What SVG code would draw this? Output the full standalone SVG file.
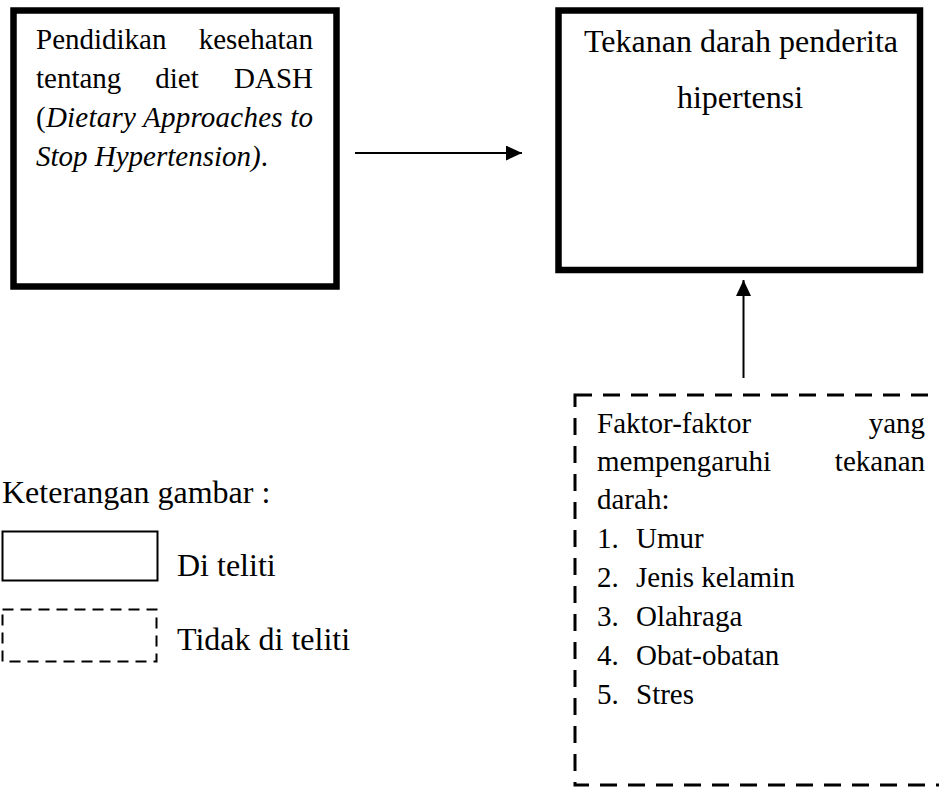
<svg xmlns="http://www.w3.org/2000/svg" width="939" height="787" viewBox="0 0 939 787">
<style>
text{font-family:"Liberation Serif","Times New Roman",serif;fill:#000}
.t28{font-size:29px}
.t31{font-size:32px}
.solid{fill:#fff;stroke:#000;stroke-width:6.5}
.dash{fill:none;stroke:#000;stroke-width:3;stroke-dasharray:17 11}
.conn{stroke:#000;stroke-width:2;fill:none}
</style>
<defs>
<marker id="ah" markerWidth="16" markerHeight="15" refX="16" refY="7.5" orient="auto" markerUnits="userSpaceOnUse">
<path d="M0,0 L16,7.5 L0,15 Z" fill="#000"/>
</marker>
</defs>
<rect width="939" height="787" fill="#fff"/>
<g id="node-pendidikan">
<rect class="solid" x="13.5" y="10.5" width="323" height="276"/>
<text class="t28" x="36" y="49">Pendidikan</text>
<text class="t28" x="313" y="49" text-anchor="end">kesehatan</text>
<text class="t28" x="36" y="88">tentang</text>
<text class="t28" x="177" y="88" text-anchor="middle">diet</text>
<text class="t28" x="313" y="88" text-anchor="end">DASH</text>
<text class="t28" x="36" y="127" textLength="277" lengthAdjust="spacing">(<tspan font-style="italic">Dietary Approaches to</tspan></text>
<text class="t28" x="36" y="166"><tspan font-style="italic">Stop Hypertension)</tspan>.</text>
</g>
<g id="node-tekanan">
<rect class="solid" x="558.5" y="10.5" width="361.5" height="259.5"/>
<text class="t31" x="741" y="52" text-anchor="middle">Tekanan darah penderita</text>
<text class="t31" x="740" y="108" text-anchor="middle">hipertensi</text>
</g>
<g id="node-faktor">
<rect class="dash" x="575" y="395" width="400" height="390"/>
<text class="t28" x="597" y="433">Faktor-faktor</text>
<text class="t28" x="925" y="433" text-anchor="end">yang</text>
<text class="t28" x="597" y="471">mempengaruhi</text>
<text class="t28" x="925" y="471" text-anchor="end">tekanan</text>
<text class="t28" x="597" y="509">darah:</text>
<text class="t28" x="597" y="548">1.</text><text class="t28" x="636" y="548">Umur</text>
<text class="t28" x="597" y="587">2.</text><text class="t28" x="636" y="587">Jenis kelamin</text>
<text class="t28" x="597" y="626">3.</text><text class="t28" x="636" y="626">Olahraga</text>
<text class="t28" x="597" y="665">4.</text><text class="t28" x="636" y="665">Obat-obatan</text>
<text class="t28" x="597" y="704">5.</text><text class="t28" x="636" y="704">Stres</text>
</g>
<g id="legend">
<text class="t31" x="2" y="503">Keterangan gambar :</text>
<rect x="2.5" y="531.5" width="155" height="49" fill="#fff" stroke="#000" stroke-width="2"/>
<text class="t31" x="177" y="576">Di teliti</text>
<rect x="2.5" y="609.5" width="154" height="52" fill="none" stroke="#000" stroke-width="2" stroke-dasharray="11 7"/>
<text class="t31" x="177" y="650">Tidak di teliti</text>
</g>
<g id="connectors">
<line class="conn" x1="355" y1="153" x2="522" y2="153" marker-end="url(#ah)"/>
<line class="conn" x1="743.5" y1="378" x2="743.5" y2="280" marker-end="url(#ah)"/>
</g>
</svg>
